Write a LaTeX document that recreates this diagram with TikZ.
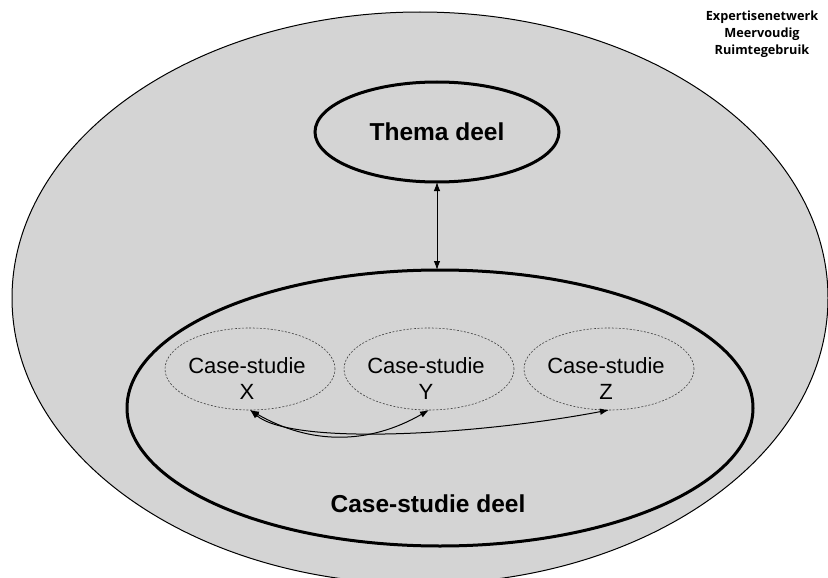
\documentclass[tikz,border=0pt]{standalone}
\usepackage{fontspec}
\setmainfont{Liberation Sans}
\newfontfamily\brandfont{Open Sans}
\usetikzlibrary{shapes.geometric,arrows.meta}
\begin{document}
\begin{tikzpicture}[x=1pt,y=-1pt,
  zonefill/.style={ellipse,fill=black!17,inner sep=0pt,outer sep=0pt},
  bigzone/.style={zonefill,draw=black,line width=3pt},
  casezone/.style={zonefill,draw=black!75,line width=0.6pt,dash pattern=on 2pt off 1.6pt,
    minimum width=170pt,minimum height=82pt},
  boldlabel/.style={font=\bfseries\fontsize{24.5}{28}\selectfont},
  caselabel/.style={align=center,font=\fontsize{22}{26}\selectfont},
  dbl/.style={line width=1pt,{Latex[length=9pt,width=6.5pt]}-{Latex[length=9pt,width=6.5pt]}}
]
\useasboundingbox (0,0) rectangle (828,578);
\clip (0,0) rectangle (828,578);
\fill[white] (0,0) rectangle (828,578);
% outer field
\node[zonefill,draw=black,line width=1pt,minimum width=816pt,minimum height=572pt] (outer) at (420,298) {};
% theme part
\node[bigzone,minimum width=244pt,minimum height=100pt,boldlabel] (thema) at (437,132) {Thema deel};
% case-study part
\node[bigzone,minimum width=626pt,minimum height=276pt] (deel) at (440,408) {};
\node[boldlabel] (deellabel) at (428,504) {Case-studie deel};
% case studies
\node[casezone] (cx) at (250,369) {};
\node[casezone] (cy) at (429,369) {};
\node[casezone] (cz) at (609,369) {};
\node[caselabel] (tx) at (247,379) {Case-studie\\X};
\node[caselabel] (ty) at (426,379) {Case-studie\\Y};
\node[caselabel] (tz) at (606,379) {Case-studie\\Z};
% connectors
\draw[dbl] (thema.south) -- (thema.south |- deel.north);
\draw[dbl] (cx.south) to[bend right=30] (cy.south);
\draw[dbl] (cx.south) .. controls +(43,36) and +(-132,25) .. (cz.south);
% brand
\node[align=center,font=\brandfont\bfseries\fontsize{12.7}{17}\selectfont] (brand) at (762,34)
  {Expertisenetwerk\\Meervoudig\\Ruimtegebruik};
\end{tikzpicture}
\end{document}
